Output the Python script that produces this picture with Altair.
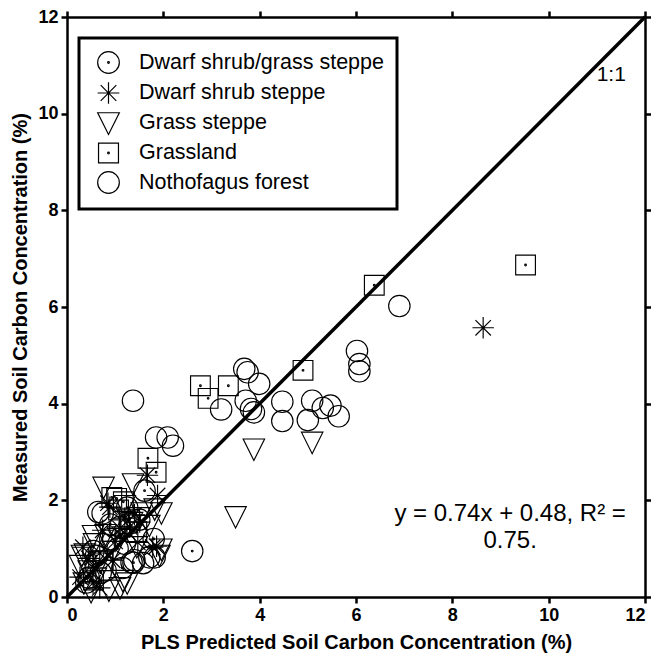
import altair as alt
import pandas as pd

categories = ["Dwarf shrub/grass steppe", "Dwarf shrub steppe", "Grass steppe",
              "Grassland", "Nothofagus forest"]

# Dwarf shrub/grass steppe (circle with dot)
dsg_x = [2.60, 1.61, 1.38, 0.70, 1.05, 1.50, 0.90, 1.25, 0.40, 1.80, 0.60, 1.15]
dsg_y = [0.95, 2.20, 0.71, 0.50, 1.00, 1.60, 1.50, 1.85, 0.30, 1.20, 0.85, 0.60]

# Dwarf shrub steppe (asterisk)
ds_x = [8.64, 1.67, 1.88, 0.85, 0.74, 0.33, 0.68, 1.78, 1.86, 1.10, 1.30, 0.54,
        0.68, 0.27, 1.10, 1.47, 0.95, 1.20, 0.89, 1.51, 0.60, 1.40, 0.45, 1.00]
ds_y = [5.57, 2.52, 2.10, 1.94, 1.38, 1.03, 0.91, 1.03, 1.05, 1.42, 1.45, 0.29,
        0.19, 0.41, 1.28, 1.13, 0.76, 1.63, 1.86, 1.55, 0.60, 1.70, 0.80, 1.15]

# Grass steppe (triangle down)
gs_x = [3.88, 5.09, 3.50, 0.76, 1.37, 1.82, 1.96, 1.92, 1.96, 1.71, 1.16, 0.50,
        0.27, 0.37, 0.56, 0.87, 1.25, 0.60, 0.45, 0.70, 0.95, 1.05, 1.35, 1.45,
        0.80, 0.35, 1.55, 1.20, 0.54, 1.51, 1.10, 0.31]
gs_y = [3.07, 3.21, 1.67, 2.28, 2.35, 1.83, 1.75, 0.87, 1.00, 1.49, 0.35, 0.12,
        0.66, 0.90, 1.11, 0.15, 0.30, 0.40, 0.55, 0.75, 0.95, 1.25, 1.55, 1.05,
        1.30, 0.30, 1.75, 1.90, 1.28, 1.65, 0.20, 0.87]

# Grassland (square with dot)
gl_x = [4.90, 2.77, 3.35, 2.93, 1.68, 1.85, 6.38, 9.52, 1.03, 0.93, 1.17, 1.07,
        0.55, 0.75, 1.30, 1.45]
gl_y = [4.69, 4.37, 4.37, 4.11, 2.87, 2.58, 6.45, 6.87, 2.04, 2.06, 1.97, 1.80,
        0.35, 0.75, 1.60, 1.35]

# Nothofagus forest (open circle)
nf_x = [1.37, 3.68, 3.75, 3.99, 3.71, 3.88, 3.82, 3.20, 4.47, 4.47, 5.09, 5.00,
        5.31, 5.47, 5.64, 6.02, 6.07, 6.07, 1.85, 2.09, 2.20, 6.90, 1.34, 1.58,
        1.82, 0.65, 0.74, 1.30, 1.40, 1.71, 0.55, 0.90, 1.10, 0.80, 1.20, 0.45]
nf_y = [4.06, 4.72, 4.65, 4.41, 4.06, 3.82, 3.89, 3.88, 4.04, 3.64, 4.06, 3.66,
        3.91, 3.96, 3.74, 5.09, 4.82, 4.67, 3.30, 3.30, 3.13, 6.02, 0.72, 0.70,
        0.82, 1.76, 1.73, 1.52, 0.76, 0.82, 0.95, 1.20, 1.45, 0.55, 1.10, 0.40]

one_to_one = [0, 12]
x_ticks = [0, 2, 4, 6, 8, 10, 12]
eq_text = "y = 0.74x + 0.48, R² =\n0.75."

rows = []
for cat, xs, ys in zip(categories,
                       [dsg_x, ds_x, gs_x, gl_x, nf_x],
                       [dsg_y, ds_y, gs_y, gl_y, nf_y]):
    for xv, yv in zip(xs, ys):
        rows.append({"pred": xv, "meas": yv, "type": cat})
df = pd.DataFrame(rows)

circ = "M1,0A1,1,0,1,1,-1,0A1,1,0,1,1,1,0Z"
dot = ("M0.08,0A0.08,0.08,0,1,1,-0.08,0A0.08,0.08,0,1,1,0.08,0Z"
       "M0.03,0A0.03,0.03,0,1,1,-0.03,0A0.03,0.03,0,1,1,0.03,0Z")
circ_dot = circ + dot
aster = "M-1,0L1,0M0,-1L0,1M-0.72,-0.72L0.72,0.72M-0.72,0.72L0.72,-0.72"
tri = "M-1,-0.9L1,-0.9L0,1.1Z"
sq_dot = "M-0.92,-0.92L0.92,-0.92L0.92,0.92L-0.92,0.92Z" + dot
shapes = [circ_dot, aster, tri, sq_dot, circ]

FONT = "Liberation Sans"
xscale = alt.Scale(domain=[0, 12], nice=False)
yscale = alt.Scale(domain=[0, 12], nice=False)

axis_common = dict(values=x_ticks, tickSize=6, tickWidth=2.5, domainWidth=2.5,
                   domainColor="black", tickColor="black", grid=False,
                   labelFont=FONT, labelFontWeight="bold",
                   labelFontSize=18, labelColor="black",
                   titleFont=FONT, titleFontWeight="bold",
                   titleFontSize=20, titleColor="black")

points = alt.Chart(df).mark_point(filled=False, size=460, strokeWidth=1.15,
                                  color="black", opacity=1).encode(
    x=alt.X("pred:Q", scale=xscale,
            axis=alt.Axis(title="PLS Predicted Soil Carbon Concentration (%)",
                          orient="bottom", labelPadding=3, titlePadding=8,
                          labelFlush=6, **axis_common)),
    y=alt.Y("meas:Q", scale=yscale,
            axis=alt.Axis(title="Measured Soil Carbon Concentration (%)",
                          orient="left", labelPadding=3, titlePadding=7,
                          labelFlush=False, **axis_common)),
    shape=alt.Shape("type:N",
                    scale=alt.Scale(domain=categories, range=shapes),
                    legend=alt.Legend(title=None, orient="none", legendX=12,
                                      legendY=21, labelFontSize=21.5,
                                      labelFont=FONT, labelLimit=400,
                                      labelColor="black",
                                      symbolSize=470, symbolStrokeWidth=1.2,
                                      symbolStrokeColor="black",
                                      symbolFillColor="transparent",
                                      rowPadding=3.5, padding=13,
                                      symbolOffset=5, labelOffset=19,
                                      strokeColor="black")),
)

line_df = pd.DataFrame({"pred": one_to_one, "meas": one_to_one})
frame_axis = dict(values=x_ticks, tickSize=6, tickWidth=2.5, domainWidth=2.5,
                  domainColor="black", tickColor="black", grid=False,
                  labels=False, title=None)
line = alt.Chart(line_df).mark_line(color="black", strokeWidth=3.5).encode(
    x=alt.X("pred:Q", scale=xscale, axis=alt.Axis(orient="top", **frame_axis)),
    y=alt.Y("meas:Q", scale=yscale, axis=alt.Axis(orient="right", **frame_axis)),
)

lab_df = pd.DataFrame({"pred": [11.3], "meas": [10.8], "t": ["1:1"]})
lab = alt.Chart(lab_df).mark_text(fontSize=21, font=FONT,
                                  color="black").encode(
    x=alt.X("pred:Q", scale=xscale, axis=None),
    y=alt.Y("meas:Q", scale=yscale, axis=None), text="t:N")

eq_df = pd.DataFrame({"pred": [9.2], "meas": [1.72], "t": [eq_text]})
eq = alt.Chart(eq_df).mark_text(fontSize=24, font=FONT,
                                color="black", lineBreak="\n", lineHeight=27,
                                align="center", baseline="middle").encode(
    x=alt.X("pred:Q", scale=xscale, axis=None),
    y=alt.Y("meas:Q", scale=yscale, axis=None), text="t:N")

chart = alt.layer(points, line, lab, eq).resolve_axis(
    x="independent", y="independent"
).properties(
    width=578, height=580,
    autosize=alt.AutoSizeParams(type="none"),
    padding={"left": 59, "top": 9, "right": 6, "bottom": 56},
).configure_view(stroke=None).configure_legend(strokeWidth=3)

chart.save("out.html", embed_options={"renderer": "svg", "actions": False})
